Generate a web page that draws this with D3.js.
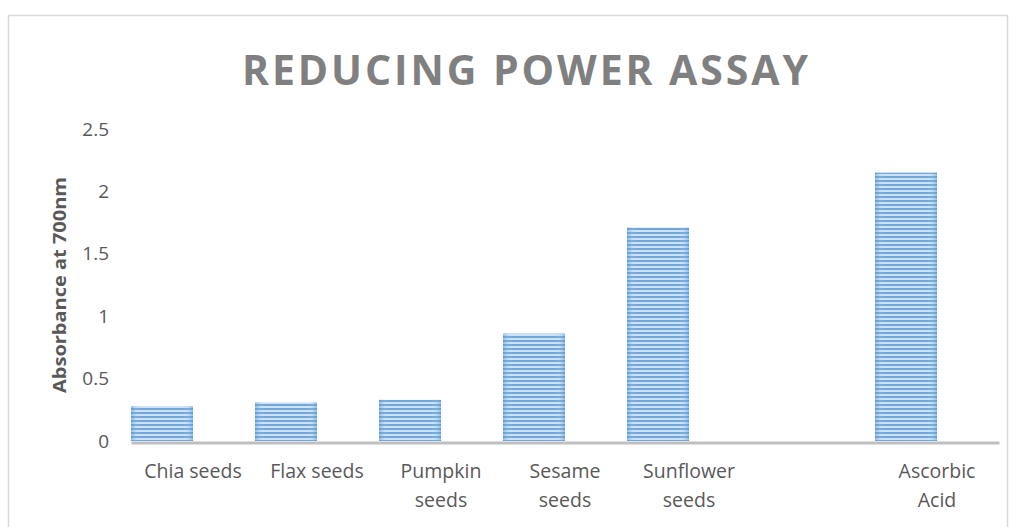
<!DOCTYPE html>
<html>
<head>
<meta charset="utf-8">
<script src="https://cdn.jsdelivr.net/npm/d3@7"></script>
<style>
body{margin:0;background:#fff;}
text{font-family:"Open Sans","Liberation Sans",sans-serif;}
</style>
</head>
<body>
<svg id="basicSVG" width="1016" height="527"></svg>
<script>
// data
var categories = ["Chia seeds","Flax seeds","Pumpkin seeds","Sesame seeds","Sunflower seeds","","Ascorbic Acid"];
var labelLines = [["Chia seeds"],["Flax seeds"],["Pumpkin","seeds"],["Sesame","seeds"],["Sunflower","seeds"],[],["Ascorbic","Acid"]];
var values = [0.28,0.31,0.33,0.86,1.71,null,2.15];
var yTicks = [0,0.5,1,1.5,2,2.5];

var svg = d3.select("#basicSVG");
var textColor = "#595959";

//外框
svg.append("rect").attr("x",8.5).attr("y",15.5).attr("width",999).attr("height",530)
	.attr("fill","#fff").attr("stroke","#d9d9d9").attr("stroke-width",1.5);

//條紋樣式
var defs = svg.append("defs");
var pat = defs.append("pattern").attr("id","stripe").attr("patternUnits","userSpaceOnUse")
	.attr("width",8).attr("height",4);
pat.append("rect").attr("width",8).attr("height",4).attr("fill","#cadef3");
pat.append("rect").attr("y",0).attr("width",8).attr("height",2).attr("fill","#5f9dd7");
var grad = defs.append("linearGradient").attr("id","edge").attr("x1","0").attr("x2","1");
grad.append("stop").attr("offset","0").attr("stop-color","#5b9bd5").attr("stop-opacity",0.5);
grad.append("stop").attr("offset","0.15").attr("stop-color","#ffffff").attr("stop-opacity",0.1);
grad.append("stop").attr("offset","0.85").attr("stop-color","#ffffff").attr("stop-opacity",0.1);
grad.append("stop").attr("offset","1").attr("stop-color","#5b9bd5").attr("stop-opacity",0.5);

var x = d3.scaleBand().domain(d3.range(categories.length)).range([131,999]).padding(0);
var y = d3.scaleLinear().domain([0,2.5]).range([441,129]);

//標題
svg.append("text").text("REDUCING POWER ASSAY")
	.attr("x",525).attr("y",85).attr("text-anchor","middle")
	.attr("font-family","Lato,'Open Sans',sans-serif")
	.attr("font-size",41).attr("font-weight","bold").attr("fill","#808080")
	.attr("textLength",566).attr("lengthAdjust","spacing");

//Y軸標題
svg.append("text").text("Absorbance at 700nm")
	.attr("transform","translate(66,285) rotate(-90)")
	.attr("text-anchor","middle").attr("font-size",18).attr("font-weight","bold").attr("fill",textColor)
	.attr("textLength",216).attr("lengthAdjust","spacingAndGlyphs");

//Y軸刻度
var yAxis = d3.axisLeft(y).tickValues(yTicks).tickSize(0).tickPadding(0)
	.tickFormat(function(d){return String(d);});
var yg = svg.append("g").attr("transform","translate(109,0)").call(yAxis);
yg.select(".domain").remove();
yg.selectAll("text").attr("font-size",19).attr("fill",textColor)
	.attr("font-family","'Open Sans','Liberation Sans',sans-serif");

//長條
var bars = values.map(function(v,i){return {i:i,v:v};}).filter(function(d){return d.v!=null;});
svg.append("g").selectAll("rect").data(bars).enter().append("rect")
	.attr("x",function(d){return x(d.i);})
	.attr("y",function(d){return y(d.v);})
	.attr("width",x.bandwidth()/2)
	.attr("height",function(d){return y(0)-y(d.v);})
	.attr("fill","url(#stripe)");
svg.append("g").selectAll("rect").data(bars).enter().append("rect")
	.attr("x",function(d){return x(d.i);})
	.attr("y",function(d){return y(d.v);})
	.attr("width",x.bandwidth()/2)
	.attr("height",function(d){return y(0)-y(d.v);})
	.attr("fill","url(#edge)");

//X軸線
var xAxis = d3.axisBottom(x).tickSize(0).tickFormat("");
var xg = svg.append("g").attr("transform","translate(0,"+(y(0)+1.5)+")").call(xAxis);
xg.select(".domain").attr("stroke","#bfbfbf").attr("stroke-width",3);

//X軸標籤
var lab = svg.append("g").selectAll("text").data(labelLines).enter().append("text")
	.attr("text-anchor","middle").attr("font-size",19.5).attr("fill",textColor)
	.attr("transform",function(d,i){return "translate("+(x(i)+x.bandwidth()/2)+",478)";});
lab.selectAll("tspan").data(function(d){return d;}).enter().append("tspan")
	.attr("x",0).attr("dy",function(d,j){return j==0?0:29;}).text(function(d){return d;});
</script>
</body>
</html>
